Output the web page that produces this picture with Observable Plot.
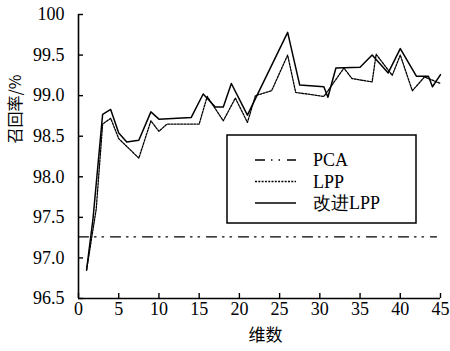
<!DOCTYPE html>
<html>
<head>
<meta charset="utf-8">
<script src="https://cdn.jsdelivr.net/npm/d3@7"></script>
<script src="https://cdn.jsdelivr.net/npm/@observablehq/plot@0.6"></script>
<style>
  html, body { margin: 0; padding: 0; background: white; }
  #chart { width: 450px; height: 351px; }
  #chart svg text { font-family: "Liberation Serif", serif; }
  #chart svg g.cjk text { font-family: "Noto Sans CJK SC", sans-serif; }
</style>
</head>
<body>
<div id="chart"></div>
<script>
// ---- data ----
const xTicks = [0, 5, 10, 15, 20, 25, 30, 35, 40, 45];
const yTicks = [96.5, 97.0, 97.5, 98.0, 98.5, 99.0, 99.5, 100];
const seriesNames = ["PCA", "LPP", "改进LPP"];

const pcaX = [0, 44.5];
const pcaY = [97.26, 97.26];

const lppX = [1, 2.2, 3, 4, 5, 7.5, 9, 10, 11, 15, 16, 18, 19.5, 21, 22, 24, 26, 27, 30.5, 33, 34, 36.5, 37, 39, 40, 41.5, 43, 44, 45];
const lppY = [96.85, 97.6, 98.65, 98.72, 98.47, 98.23, 98.69, 98.56, 98.65, 98.65, 98.99, 98.69, 98.97, 98.67, 99.0, 99.06, 99.5, 99.04, 98.99, 99.34, 99.21, 99.17, 99.51, 99.25, 99.5, 99.06, 99.23, 99.19, 99.15];

const impX = [1, 1.8, 3, 4, 5, 6, 7.5, 9, 10, 14, 15.5, 17, 18, 19, 21, 26, 27.5, 30.5, 31, 32, 35, 36.5, 38.5, 40, 42, 43.5, 44, 45];
const impY = [96.85, 97.48, 98.77, 98.83, 98.54, 98.43, 98.45, 98.8, 98.71, 98.73, 99.02, 98.86, 98.86, 99.15, 98.76, 99.78, 99.13, 99.11, 98.98, 99.34, 99.35, 99.5, 99.28, 99.58, 99.24, 99.24, 99.11, 99.26];

const xLabel = "维数";
const yLabel = "召回率/%";

// ---- tables ----
const toRows = (xs, ys) => xs.map((x, i) => ({x, y: ys[i]}));
const pca = toRows(pcaX, pcaY);
const lpp = toRows(lppX, lppY);
const imp = toRows(impX, impY);

const dashes = {
  "PCA": "10,6,1.5,6,1.5,7",
  "LPP": "2,1.3",
  "改进LPP": null
};

const W = 450, H = 351, mL = 78, mR = 10, mT = 14, mB = 53;
const yFmt = d => d === 100 ? "100" : d.toFixed(1);

const plot = Plot.plot({
  width: W, height: H,
  marginLeft: mL, marginRight: mR, marginTop: mT, marginBottom: mB,
  x: {domain: [0, 45], axis: null},
  y: {domain: [96.5, 100], axis: null},
  style: {fontSize: "18px", color: "black", background: "white", overflow: "visible"},
  marks: [
    Plot.text(xTicks, {x: d => d, frameAnchor: "bottom", dy: 16, text: d => String(d), fontSize: 18, fill: "black"}),
    Plot.text(yTicks, {y: d => d, frameAnchor: "left", dx: -14, textAnchor: "end", text: yFmt, fontSize: 18, fill: "black"}),
    Plot.tickX(xTicks, {x: d => d, insetTop: 279, stroke: "black", strokeWidth: 1.4}),
    Plot.tickY(yTicks, {y: d => d, insetRight: 357, stroke: "black", strokeWidth: 1.4}),
    Plot.ruleX([0], {stroke: "black", strokeWidth: 1.6}),
    Plot.ruleY([96.5], {stroke: "black", strokeWidth: 1.6}),
    Plot.line(pca, {x: "x", y: "y", stroke: "black", strokeWidth: 1.4, strokeDasharray: dashes["PCA"]}),
    Plot.line(lpp, {x: "x", y: "y", stroke: "black", strokeWidth: 1.3, strokeDasharray: dashes["LPP"]}),
    Plot.line(imp, {x: "x", y: "y", stroke: "black", strokeWidth: 1.5}),
    Plot.text([xLabel], {text: d => d, frameAnchor: "bottom", dx: 6, dy: 42, fontSize: 17, fill: "black", className: "cjk"}),
    Plot.text([yLabel], {text: d => d, frameAnchor: "left", dx: -63, dy: -13, rotate: -90, fontSize: 16, fill: "black", className: "cjk"})
  ]
});

document.getElementById("chart").appendChild(plot);

const svg = d3.select(plot);

// ---- legend (inside the plot area, upper right) ----
const lg = svg.append("g");
lg.append("rect").attr("x", 227).attr("y", 135).attr("width", 189).attr("height", 88)
  .attr("fill", "white").attr("stroke", "black").attr("stroke-width", 1.5);
seriesNames.forEach((name, i) => {
  const yy = 160 + i * 21.5;
  const ln = lg.append("line").attr("x1", 255).attr("x2", 296).attr("y1", yy).attr("y2", yy)
    .attr("stroke", "black").attr("stroke-width", name === "改进LPP" ? 1.5 : 1.4);
  if (dashes[name]) ln.attr("stroke-dasharray", dashes[name]);
  lg.append("text").attr("x", 313).attr("y", yy).attr("dy", "0.35em")
    .attr("text-anchor", "start").style("font-size", "18px").attr("fill", "black").text(name);
});
</script>
</body>
</html>
